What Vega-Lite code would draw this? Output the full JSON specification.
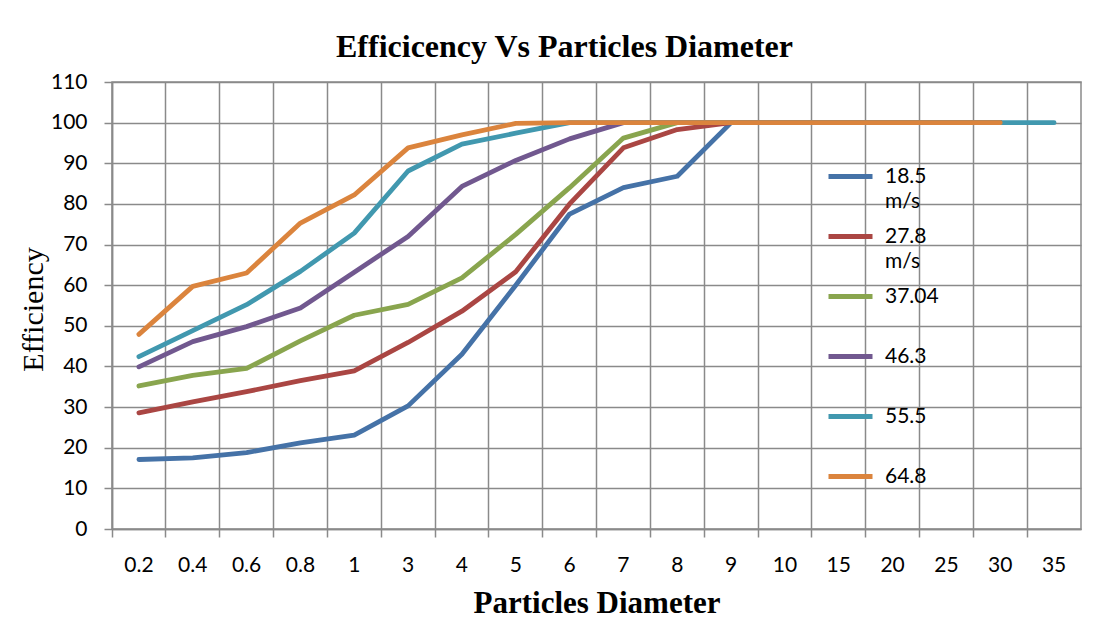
{
  "$schema": "https://vega.github.io/schema/vega-lite/v6.json",
  "width": 969,
  "height": 447,
  "autosize": {"type": "none"},
  "padding": {"left": 112, "top": 82, "right": 39, "bottom": 91},
  "background": "white",
  "title": {
    "text": "Efficicency Vs Particles Diameter",
    "font": "Liberation Serif",
    "fontSize": 32,
    "fontWeight": "bold",
    "color": "#000000",
    "anchor": "middle",
    "baseline": "alphabetic",
    "offset": 26,
    "dx": -32,
    "dy": 44
  },
  "data": {
    "values": [
      {"speed": "18.5 m/s", "d": "0.2", "eff": 17.1},
      {"speed": "18.5 m/s", "d": "0.4", "eff": 17.5},
      {"speed": "18.5 m/s", "d": "0.6", "eff": 18.8},
      {"speed": "18.5 m/s", "d": "0.8", "eff": 21.2},
      {"speed": "18.5 m/s", "d": "1", "eff": 23.1},
      {"speed": "18.5 m/s", "d": "3", "eff": 30.3},
      {"speed": "18.5 m/s", "d": "4", "eff": 43.0},
      {"speed": "18.5 m/s", "d": "5", "eff": 60.0},
      {"speed": "18.5 m/s", "d": "6", "eff": 77.5},
      {"speed": "18.5 m/s", "d": "7", "eff": 84.0},
      {"speed": "18.5 m/s", "d": "8", "eff": 86.8},
      {"speed": "18.5 m/s", "d": "9", "eff": 100},
      {"speed": "18.5 m/s", "d": "10", "eff": 100},
      {"speed": "18.5 m/s", "d": "15", "eff": 100},
      {"speed": "18.5 m/s", "d": "20", "eff": 100},
      {"speed": "18.5 m/s", "d": "25", "eff": 100},
      {"speed": "18.5 m/s", "d": "30", "eff": 100},

      {"speed": "27.8 m/s", "d": "0.2", "eff": 28.6},
      {"speed": "27.8 m/s", "d": "0.4", "eff": 31.3},
      {"speed": "27.8 m/s", "d": "0.6", "eff": 33.8},
      {"speed": "27.8 m/s", "d": "0.8", "eff": 36.5},
      {"speed": "27.8 m/s", "d": "1", "eff": 38.9},
      {"speed": "27.8 m/s", "d": "3", "eff": 45.9},
      {"speed": "27.8 m/s", "d": "4", "eff": 53.6},
      {"speed": "27.8 m/s", "d": "5", "eff": 63.3},
      {"speed": "27.8 m/s", "d": "6", "eff": 80.0},
      {"speed": "27.8 m/s", "d": "7", "eff": 93.8},
      {"speed": "27.8 m/s", "d": "8", "eff": 98.3},
      {"speed": "27.8 m/s", "d": "9", "eff": 100},
      {"speed": "27.8 m/s", "d": "10", "eff": 100},
      {"speed": "27.8 m/s", "d": "15", "eff": 100},
      {"speed": "27.8 m/s", "d": "20", "eff": 100},
      {"speed": "27.8 m/s", "d": "25", "eff": 100},
      {"speed": "27.8 m/s", "d": "30", "eff": 100},

      {"speed": "37.04", "d": "0.2", "eff": 35.2},
      {"speed": "37.04", "d": "0.4", "eff": 37.8},
      {"speed": "37.04", "d": "0.6", "eff": 39.5},
      {"speed": "37.04", "d": "0.8", "eff": 46.3},
      {"speed": "37.04", "d": "1", "eff": 52.6},
      {"speed": "37.04", "d": "3", "eff": 55.3},
      {"speed": "37.04", "d": "4", "eff": 61.8},
      {"speed": "37.04", "d": "5", "eff": 72.5},
      {"speed": "37.04", "d": "6", "eff": 84.0},
      {"speed": "37.04", "d": "7", "eff": 96.2},
      {"speed": "37.04", "d": "8", "eff": 100},
      {"speed": "37.04", "d": "9", "eff": 100},
      {"speed": "37.04", "d": "10", "eff": 100},
      {"speed": "37.04", "d": "15", "eff": 100},
      {"speed": "37.04", "d": "20", "eff": 100},
      {"speed": "37.04", "d": "25", "eff": 100},
      {"speed": "37.04", "d": "30", "eff": 100},

      {"speed": "46.3", "d": "0.2", "eff": 39.9},
      {"speed": "46.3", "d": "0.4", "eff": 46.1},
      {"speed": "46.3", "d": "0.6", "eff": 49.8},
      {"speed": "46.3", "d": "0.8", "eff": 54.4},
      {"speed": "46.3", "d": "1", "eff": 63.2},
      {"speed": "46.3", "d": "3", "eff": 72.0},
      {"speed": "46.3", "d": "4", "eff": 84.3},
      {"speed": "46.3", "d": "5", "eff": 90.7},
      {"speed": "46.3", "d": "6", "eff": 96.0},
      {"speed": "46.3", "d": "7", "eff": 100},
      {"speed": "46.3", "d": "8", "eff": 100},
      {"speed": "46.3", "d": "9", "eff": 100},
      {"speed": "46.3", "d": "10", "eff": 100},
      {"speed": "46.3", "d": "15", "eff": 100},
      {"speed": "46.3", "d": "20", "eff": 100},
      {"speed": "46.3", "d": "25", "eff": 100},
      {"speed": "46.3", "d": "30", "eff": 100},

      {"speed": "55.5", "d": "0.2", "eff": 42.4},
      {"speed": "55.5", "d": "0.4", "eff": 48.8},
      {"speed": "55.5", "d": "0.6", "eff": 55.2},
      {"speed": "55.5", "d": "0.8", "eff": 63.4},
      {"speed": "55.5", "d": "1", "eff": 72.8},
      {"speed": "55.5", "d": "3", "eff": 88.1},
      {"speed": "55.5", "d": "4", "eff": 94.7},
      {"speed": "55.5", "d": "5", "eff": 97.4},
      {"speed": "55.5", "d": "6", "eff": 100},
      {"speed": "55.5", "d": "7", "eff": 100},
      {"speed": "55.5", "d": "8", "eff": 100},
      {"speed": "55.5", "d": "9", "eff": 100},
      {"speed": "55.5", "d": "10", "eff": 100},
      {"speed": "55.5", "d": "15", "eff": 100},
      {"speed": "55.5", "d": "20", "eff": 100},
      {"speed": "55.5", "d": "25", "eff": 100},
      {"speed": "55.5", "d": "30", "eff": 100},
      {"speed": "55.5", "d": "35", "eff": 100},

      {"speed": "64.8", "d": "0.2", "eff": 47.9},
      {"speed": "64.8", "d": "0.4", "eff": 59.7},
      {"speed": "64.8", "d": "0.6", "eff": 63.0},
      {"speed": "64.8", "d": "0.8", "eff": 75.3},
      {"speed": "64.8", "d": "1", "eff": 82.2},
      {"speed": "64.8", "d": "3", "eff": 93.8},
      {"speed": "64.8", "d": "4", "eff": 97.0},
      {"speed": "64.8", "d": "5", "eff": 99.8},
      {"speed": "64.8", "d": "6", "eff": 100},
      {"speed": "64.8", "d": "7", "eff": 100},
      {"speed": "64.8", "d": "8", "eff": 100},
      {"speed": "64.8", "d": "9", "eff": 100},
      {"speed": "64.8", "d": "10", "eff": 100},
      {"speed": "64.8", "d": "15", "eff": 100},
      {"speed": "64.8", "d": "20", "eff": 100},
      {"speed": "64.8", "d": "25", "eff": 100},
      {"speed": "64.8", "d": "30", "eff": 100}
    ]
  },
  "mark": {
    "type": "line",
    "strokeWidth": 4.8,
    "strokeCap": "round",
    "strokeJoin": "round"
  },
  "encoding": {
    "x": {
      "field": "d",
      "type": "ordinal",
      "sort": ["0.2", "0.4", "0.6", "0.8", "1", "3", "4", "5", "6", "7", "8", "9", "10", "15", "20", "25", "30", "35"],
      "scale": {"type": "band", "paddingInner": 0, "paddingOuter": 0},
      "axis": {
        "title": "Particles Diameter",
        "titleFont": "Liberation Serif",
        "titleFontSize": 31,
        "titleFontWeight": "bold",
        "titleColor": "#000000",
        "titleBaseline": "alphabetic",
        "titleY": 83,
        "labelAngle": 0,
        "labelPadding": 17,
        "bandPosition": 0,
        "grid": true,
        "ticks": true,
        "tickSize": 8
      }
    },
    "y": {
      "field": "eff",
      "type": "quantitative",
      "scale": {"domain": [0, 110], "nice": false},
      "axis": {
        "title": "Efficiency",
        "values": [0, 10, 20, 30, 40, 50, 60, 70, 80, 90, 100, 110],
        "titleFont": "Liberation Serif",
        "titleFontSize": 30,
        "titleFontWeight": "normal",
        "titleColor": "#000000",
        "titleAngle": 270,
        "titleBaseline": "alphabetic",
        "titleAlign": "center",
        "titleX": -70,
        "titleY": 227,
        "labelPadding": 17,
        "tickSize": 8,
        "grid": true
      }
    },
    "color": {
      "field": "speed",
      "type": "nominal",
      "scale": {
        "domain": ["18.5 m/s", "27.8 m/s", "37.04", "46.3", "55.5", "64.8"],
        "range": ["#4572A7", "#AA4643", "#89A54E", "#71588F", "#4198AF", "#DB843D"]
      },
      "legend": {
        "title": null,
        "orient": "none",
        "legendX": 714,
        "legendY": 70,
        "padding": 0,
        "symbolType": "stroke",
        "symbolSize": 1936,
        "symbolStrokeWidth": 4.8,
        "labelOffset": 10,
        "labelFont": "Lato",
        "labelFontSize": 21,
        "labelColor": "#000000",
        "labelBaseline": "middle",
        "rowPadding": 0,
        "labelExpr": "[split(datum.label, ' ')[0], split(datum.label, ' ')[1] || '']"
      }
    }
  },
  "config": {
    "view": {"stroke": "#8a8a8a", "strokeWidth": 1.5},
    "style": {"guide-label": {"lineHeight": 25}},
    "axis": {
      "labelFont": "Lato",
      "labelFontSize": 21,
      "labelColor": "#000000",
      "domainColor": "#8a8a8a",
      "domainWidth": 1.5,
      "tickColor": "#8a8a8a",
      "tickWidth": 1.5,
      "gridColor": "#8a8a8a",
      "gridWidth": 1.5,
      "gridOpacity": 1
    }
  }
}
